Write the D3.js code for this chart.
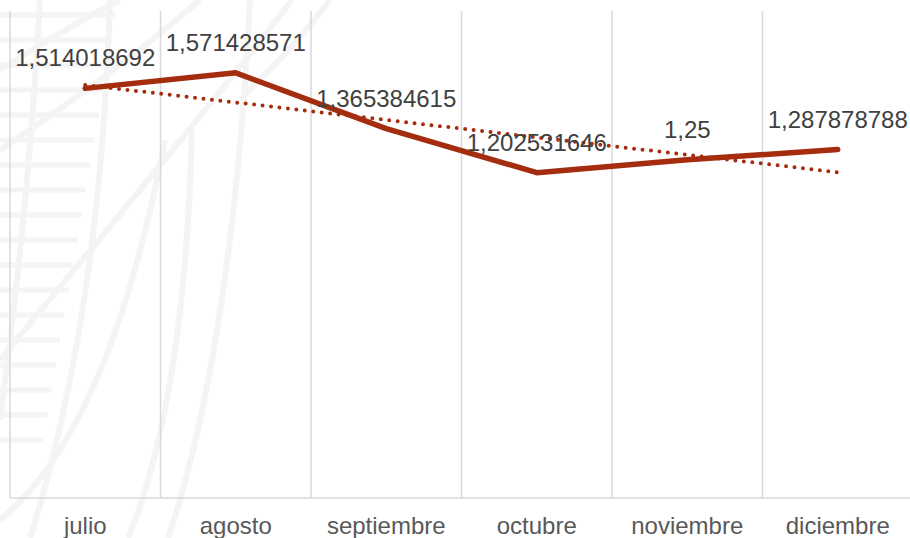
<!DOCTYPE html>
<html>
<head>
<meta charset="utf-8">
<script src="https://cdn.jsdelivr.net/npm/d3@7"></script>
<style>
  html, body { margin: 0; padding: 0; background: #ffffff; }
  svg { display: block; }
</style>
</head>
<body>
<svg id="chart"></svg>
<script>
const months = ["julio", "agosto", "septiembre", "octubre", "noviembre", "diciembre"]
const values = [1.514018692, 1.571428571, 1.365384615, 1.202531646, 1.25, 1.287878788]
const labels = ["1,514018692", "1,571428571", "1,365384615", "1,202531646", "1,25", "1,287878788"]

const width = 910
const height = 538
const margin = { top: 11, right: -3, bottom: 40, left: 10 }
const graphWidth = width - margin.left - margin.right
const graphHeight = height - margin.top - margin.bottom

const svg = d3.select("#chart")
  .attr("width", width)
  .attr("height", height)

// faint background watermark
const wm = svg.append("g")
  .attr("fill", "none")
  .attr("stroke", "#f4f4f4")
  .attr("stroke-width", 6)
const wmPaths = [
  "M 40 0 C 32 150, 16 300, 0 420",
  "M 110 0 C 104 200, 80 380, 30 538",
  "M 292 0 C 200 120, 90 250, 0 360",
  "M 200 0 C 130 60, 60 110, 0 150",
  "M 120 0 C 80 20, 40 45, 0 70",
  "M 0 520 Q 110 430 165 140",
  "M 192 130 Q 185 400 128 538",
  "M 250 0 C 240 200, 215 400, 168 538",
  "M 330 0 C 300 40, 270 70, 240 100"
]
wm.selectAll("path.wm").data(wmPaths).enter()
  .append("path").attr("class", "wm").attr("d", d => d)
wm.selectAll("line.rung").data(d3.range(18)).enter()
  .append("line").attr("class", "rung")
  .attr("x1", 0).attr("x2", i => 118 - 0.17 * (15 + i * 25))
  .attr("y1", i => 15 + i * 25).attr("y2", i => 15 + i * 25)
  .attr("stroke-width", 5)

const g = svg.append("g").attr("transform", `translate(${margin.left}, ${margin.top})`)

const xScale = d3.scaleBand()
  .domain(months)
  .range([0, graphWidth])

const yScale = d3.scaleLinear()
  .domain([0, 1.8])
  .range([graphHeight, 0])

const cx = d => xScale(d) + xScale.bandwidth() / 2

// vertical gridlines
g.selectAll("line.grid").data(months).enter()
  .append("line").attr("class", "grid")
  .attr("x1", d => xScale(d)).attr("x2", d => xScale(d))
  .attr("y1", 0).attr("y2", graphHeight)
  .attr("stroke", "#d9d9d9").attr("stroke-width", 1.5)

// x axis
const xAxis = g.append("g")
  .attr("transform", `translate(0, ${graphHeight})`)
  .call(d3.axisBottom(xScale).tickSize(0).tickPadding(0))
xAxis.select(".domain").attr("stroke", "#d9d9d9").attr("stroke-width", 1.5)
  .attr("d", `M0,0H${graphWidth}`)
xAxis.selectAll("text")
  .attr("dy", 0)
  .attr("y", 36)
  .attr("fill", "#595959")
  .style("font-family", "'Liberation Sans', Arial, sans-serif")
  .style("font-size", "24px")

// trend line (linear regression of the series)
const xs = values.map((v, i) => i + 1)
const mx = d3.mean(xs), my = d3.mean(values)
const slope = d3.sum(xs, (x, i) => (x - mx) * (values[i] - my)) / d3.sum(xs, x => (x - mx) ** 2)
const trend = months.map((m, i) => ({ m, v: my + slope * (i + 1 - mx) }))

g.append("path")
  .datum(trend)
  .attr("fill", "none")
  .attr("stroke", "#a52d0f")
  .attr("stroke-width", 4)
  .attr("stroke-linecap", "round")
  .attr("stroke-dasharray", "0 8.5")
  .attr("d", d3.line().x(d => cx(d.m)).y(d => yScale(d.v)))

// main line
g.append("path")
  .datum(values)
  .attr("fill", "none")
  .attr("stroke", "#a52d0f")
  .attr("stroke-width", 5.5)
  .attr("stroke-linejoin", "round")
  .attr("stroke-linecap", "round")
  .attr("d", d3.line().x((d, i) => cx(months[i])).y(d => yScale(d)))

// data labels
g.selectAll("text.lbl").data(values).enter()
  .append("text").attr("class", "lbl")
  .attr("x", (d, i) => cx(months[i]))
  .attr("y", d => yScale(d) - 22)
  .attr("text-anchor", "middle")
  .attr("fill", "#404040")
  .style("font-family", "'Liberation Sans', Arial, sans-serif")
  .style("font-size", "24px")
  .text((d, i) => labels[i])
</script>
</body>
</html>
